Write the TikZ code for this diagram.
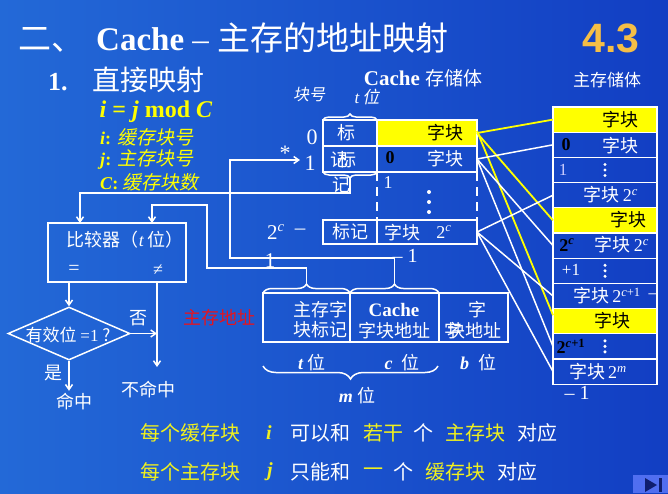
\documentclass[tikz,border=0pt]{standalone}
\usepackage{fontspec}
\setmainfont{Liberation Serif}
\newfontfamily\zh{Noto Sans CJK SC}
\newfontfamily\zhit[FakeSlant=0.2]{Noto Sans CJK SC}
\newfontfamily\sansb{Liberation Sans}
\usetikzlibrary{arrows.meta,shapes.geometric,decorations.pathreplacing,calc}
\newcommand\fs[1]{\fontsize{#1}{#1}\selectfont}
\newcommand\tpow[1]{2\textsuperscript{#1}}
\definecolor{bgl}{RGB}{35,105,215}
\definecolor{bgr}{RGB}{18,62,195}
\definecolor{ylw}{RGB}{255,255,0}
\definecolor{tylw}{RGB}{240,240,30}
\definecolor{orng}{RGB}{245,190,70}
\definecolor{redt}{RGB}{230,20,30}
\definecolor{navb}{RGB}{80,110,240}
\definecolor{navd}{RGB}{15,30,110}
\begin{document}
\begin{tikzpicture}[x=1pt,y=-1pt,
  cell/.style={draw=white, line width=1.3pt, inner sep=0pt, outer sep=0pt},
  wline/.style={draw=white, line width=1.5pt},
  yline/.style={draw=ylw, line width=1.8pt},
  arr/.style={-{Straight Barb[length=5pt,width=7pt]}},
  zt/.style={text=white, inner sep=0pt, font=\zh\fs{18}},
  lt/.style={text=white, inner sep=0pt, font=\rmfamily\fs{20}},
  brc/.style={wline, decorate, decoration={brace, amplitude=#1}}]
\useasboundingbox (0,0) rectangle (668,493);
\shade[left color=bgl, right color=bgr] (0,0) rectangle (668,493);

% titles
\node[lt, anchor=west, font=\rmfamily\fs{33}] (title) at (18,38) {{\zh 二、}\hspace{12pt}\textbf{Cache} – {\zh 主存的地址映射}};
\node[inner sep=0pt, text=orng, font=\sansb\bfseries\fs{41}] (sec) at (611,38) {4.3};
\node[lt, anchor=west, font=\rmfamily\fs{26}] (sub) at (48,80) {\textbf{1.}\hspace{25pt}{\zh\fs{28}直接映射}};
\node[inner sep=0pt, text=ylw, font=\rmfamily\bfseries\fs{24}] (formula) at (156,112) {\textit{i} = \textit{j} mod \textit{C}};
\node[inner sep=0pt, text=ylw, anchor=west, font=\rmfamily\fs{18}] (li) at (100,137) {\textbf{\textit{i}:} {\zhit\fs{19}缓存块号}};
\node[inner sep=0pt, text=ylw, anchor=west, font=\rmfamily\fs{18}] (lj) at (100,159) {\textbf{\textit{j}:} {\zhit\fs{19}主存块号}};
\node[inner sep=0pt, text=ylw, anchor=west, font=\rmfamily\fs{18}] (lc) at (100,182) {\textbf{\textit{C}:} {\zhit\fs{19}缓存块数}};

% cache header
\node[lt, font=\rmfamily\fs{21}] (cachehdr) at (423,78) {\textbf{Cache} {\zh\fs{19}存储体}};
\node[zt, font=\zhit\fs{16}] (blkno) at (309,95) {块号};
\node[lt, font=\rmfamily\fs{17}] (tbits) at (367,97) {\textit{t}\,{\zhit 位}};
\node[zt, font=\zh\fs{17}] (memhdr) at (607,80) {主存储体};

% cache cells
\node[cell, minimum width=54pt, minimum height=26pt] (tag0) at (350,133) {};
\node[cell, minimum width=54pt, minimum height=26pt] (tag1) at (350,159) {};
\node[cell, fill=ylw, minimum width=100pt, minimum height=26pt] (data0) at (427,133) {};
\node[cell, minimum width=100pt, minimum height=26pt] (data1) at (427,159) {};
\node[cell, minimum width=54pt, minimum height=24pt] (tagL) at (350,232) {};
\node[cell, minimum width=100pt, minimum height=24pt] (dataL) at (427,232) {};
\draw[wline, dash pattern=on 9pt off 6pt] (data1.south west) -- (dataL.north west);
\draw[wline, dash pattern=on 9pt off 6pt] (data1.south east) -- (dataL.north east);
\draw[brc=6pt] (tag0.north west) -- (tag0.north east);
\draw[brc=6pt] (tag1.south east) -- (tag1.south west);
\coordinate (tbtip) at ($(tag1.south)+(0,6)$);

\node[zt] (tgA) at (346,133) {标};
\node[zt] (tgB) at (339,160) {记};
\node[zt] (tgC) at (347,160) {标};
\node[zt] (tgD) at (341,185) {记};
\node[zt, text=black] (d0t) at (445,133) {字块};
\node[lt, text=black, font=\rmfamily\bfseries\fs{18}] (d1n) at (390,158) {0};
\node[zt] (d1t) at (445,159) {字块};
\node[lt, font=\rmfamily\fs{18}] (d2n) at (388,183) {1};
\fill[white] (429,192) circle[radius=2pt] (429,202) circle[radius=2pt] (429,212) circle[radius=2pt];
\node[zt] (tLt) at (350,232) {标记};
\node[zt] (dLt) at (402,233) {字块};
\node[lt, font=\rmfamily\fs{18}] (dLn) at (444,232) {\tpow{\textit{c}}};

\node[lt, font=\rmfamily\fs{22}] (r0) at (312,137) {0};
\node[lt, font=\rmfamily\fs{22}] (r1) at (310,163) {1};
\node[lt, font=\rmfamily\fs{22}] (star) at (285,153) {*};
\node[lt, font=\rmfamily\fs{21}] (rL) at (276,232) {\tpow{\textit{c}}};
\node[lt, font=\rmfamily\fs{21}] (rLd) at (300,232) {–};
\node[lt, font=\rmfamily\fs{21}] (rL1) at (270,261) {1};
\node[lt, font=\rmfamily\fs{20}] (dLm) at (405,256) {– 1};

% main memory
\foreach \k/\f in {0/ylw,1/none,2/none,3/none,4/ylw,5/none,6/none,7/none,8/ylw,9/none,10/none}
  \node[cell, fill=\f, minimum width=104pt, minimum height=25.2pt] (m\k) at (605,{119.6+25.2*\k}) {};
\node[zt, text=black] (m0t) at (620,120) {字块};
\node[lt, text=black, font=\rmfamily\bfseries\fs{18}] (m1n) at (566,145) {0};
\node[zt] (m1t) at (620,146) {字块};
\node[lt, text=white!80!blue, font=\rmfamily\fs{17}] (m2n) at (563,170) {1};
\node[zt] (m3t) at (611,195) {字块\,{\rmfamily\tpow{\textit{c}}}};
\node[zt, text=black] (m4t) at (628,220) {字块};
\node[lt, text=black, font=\rmfamily\bfseries\fs{18}] (m5n) at (567,245) {\tpow{\textit{c}}};
\node[zt] (m5t) at (622,245) {字块\,{\rmfamily\tpow{\textit{c}}}};
\node[lt, font=\rmfamily\fs{17}] (m6n) at (571,270) {+1};
\node[zt] (m7t) at (607,296) {字块\,{\rmfamily\tpow{\textit{c}+1}}};
\node[lt, font=\rmfamily\fs{18}] (m7d) at (653,296) {–};
\node[zt, text=black] (m8t) at (612,321) {字块};
\node[lt, text=black, font=\rmfamily\bfseries\fs{18}] (m9n) at (571,346) {\tpow{\textit{c}+1}};
\node[zt] (m10t) at (598,372) {字块\,{\rmfamily\tpow{\textit{m}}}};
\node[lt, font=\rmfamily\fs{20}] (mend) at (577,393) {– 1};
\foreach \yy in {170,270.8,346.4}
  \fill[white] (605,\yy-5.5) circle[radius=1.7pt] (605,\yy) circle[radius=1.7pt] (605,\yy+5.5) circle[radius=1.7pt];

% mapping lines
\draw[yline] (data0.east) -- (m0.west);
\draw[yline] (data0.east) -- (m4.west);
\draw[yline] ($(data0.east)+(0,-2)$) -- ($(m8.west)+(0,-6)$);
\draw[wline] (data1.east) -- (m1.west);
\draw[wline] (data1.east) -- (m5.west);
\draw[wline] (data1.east) -- (m9.west);
\draw[wline] (dataL.east) -- (m3.west);
\draw[wline] (dataL.east) -- (m7.west);
\draw[wline] (dataL.east) -- (m10.west);

% address fields
\node[cell, minimum width=87pt, minimum height=49pt] (a1) at (306.5,317.5) {};
\node[cell, minimum width=89pt, minimum height=49pt] (a2) at (394.5,317.5) {};
\node[cell, minimum width=69pt, minimum height=49pt] (a3) at (473.5,317.5) {};
\draw[brc=9pt] (a1.north west) -- (a1.north east);
\draw[brc=9pt] (a2.north west) -- (a2.north east);
\coordinate (b1tip) at ($(a1.north)+(0,-9)$);
\coordinate (b2tip) at ($(a2.north)+(0,-9)$);
\node[zt] (a1l1) at (320,310) {主存字};
\node[zt] (a1l2) at (320,330) {块标记};
\node[lt, font=\rmfamily\bfseries\fs{19}] (a2l1) at (394,310) {Cache};
\node[zt] (a2l2) at (394,331) {字块地址};
\node[zt] (a3l1) at (477,310) {字};
\node[zt] (a3l2) at (474,331) {块地址};
\node[zt] (a3l3) at (453,331) {字};
\draw[brc=13pt] (438,366) -- (263,366);
\node[lt, font=\rmfamily\bfseries\fs{18}] (tpos) at (312,363) {\textit{t}\ {\zh\mdseries 位}};
\node[lt, font=\rmfamily\bfseries\fs{18}] (cpos) at (402,363) {\textit{c}\ \ {\zh\mdseries 位}};
\node[lt, font=\rmfamily\bfseries\fs{18}] (bpos) at (478,363) {\textit{b}\ \ {\zh\mdseries 位}};
\node[lt, font=\rmfamily\bfseries\fs{18}] (mpos) at (357,396) {\textit{m}\ {\zh\mdseries 位}};
\node[inner sep=0pt, text=redt, font=\zh\fs{18}] (addr) at (219,318) {主存地址};

% comparator
\node[cell, line width=1.5pt, minimum width=138pt, minimum height=59pt] (cmp) at (117,252.5) {};
\node[zt] (cmplbl) at (125,240) {比较器（{\rmfamily\textit{t}}\,位）};
\node[lt, font=\rmfamily\fs{20}] (eq) at (74,270) {=};
\node[lt, font=\rmfamily\fs{18}] (neq) at (158,270) {≠};
\node[draw=white, line width=1.5pt, diamond, minimum width=122pt, minimum height=53pt, inner sep=0pt] (dia) at (69,333.5) {};
\node[zt, font=\zh\fs{17}] (dialbl) at (68,335) {有效位 {\rmfamily =1} ?};
\coordinate (cinL) at ($(cmp.north west)+(32,0)$);
\coordinate (cinR) at ($(cmp.north west)+(104,0)$);
\coordinate (cne) at ($(cmp.south west)+(109,0)$);
\coordinate (tin) at ($(tag1.west)+(-23,1)$);
\draw[wline, arr] (cmp.south -| dia.north) -- (dia.north);
\draw[wline, arr] (cne) -- ++(0,85);
\draw[wline, arr] (dia.east) -- (dia.east -| cne);
\draw[wline, arr] (dia.south) -- ++(0,30);
\node[zt] (no) at (138,318) {否};
\node[zt] (yes) at (53,373) {是};
\node[zt] (hit) at (74,402) {命中};
\node[zt] (miss) at (148,390) {不命中};

% address connectors
\draw[wline, arr] (b1tip) |- (207,268) |- (152,205) -- (cinR);
\draw[wline, arr] (b2tip) |- (230,258) |- (tin);
\draw[wline, arr] (tbtip) -- ++(0,15) -| (cinL);

% bottom text
\begin{scope}[every node/.style={inner sep=0pt, anchor=west, font=\zh\fs{20}}]
\node[text=tylw] (s1a) at (140,433) {每个缓存块};
\node[text=tylw, font=\rmfamily\bfseries\fs{20}] (s1b) at (266,433) {\textit{i}};
\node[text=white] (s1c) at (290,433) {可以和};
\node[text=tylw] (s1d) at (363,433) {若干};
\node[text=white] (s1e) at (413,433) {个};
\node[text=tylw] (s1f) at (445,433) {主存块};
\node[text=white] (s1g) at (517,433) {对应};
\node[text=tylw] (s2a) at (140,472) {每个主存块};
\node[text=tylw, font=\rmfamily\bfseries\fs{20}] (s2b) at (267,472) {\textit{j}};
\node[text=white] (s2c) at (290,472) {只能和};
\node[text=tylw] (s2d) at (363,472) {一};
\node[text=white] (s2e) at (393,472) {个};
\node[text=tylw] (s2f) at (425,472) {缓存块};
\node[text=white] (s2g) at (497,472) {对应};
\end{scope}

% nav button
\node[fill=navb, minimum width=35pt, minimum height=18pt, inner sep=0pt, anchor=north west] (nav) at (633,475) {};
\fill[navd] (645,478) -- (645,492) -- (657,485) -- cycle;
\fill[navd] (659,478) rectangle (662,492);
\end{tikzpicture}
\end{document}
